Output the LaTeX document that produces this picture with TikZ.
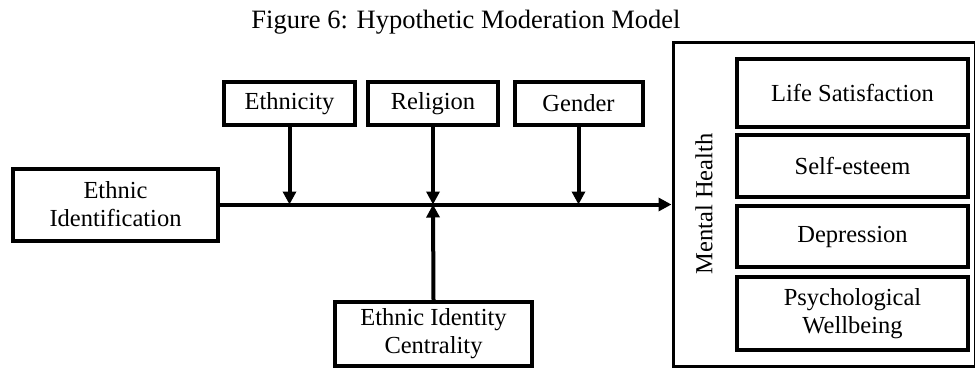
\documentclass[tikz,border=0pt]{standalone}
\usepackage{fontspec}
\setmainfont{Liberation Serif}
\usetikzlibrary{arrows.meta}
\begin{document}
\begin{tikzpicture}[x=1pt,y=-1pt,
  box/.style={draw=black,line width=4pt,fill=white,inner sep=0pt,align=center,
    font=\fontsize{24.5}{28}\selectfont},
  conn/.style={line width=4pt,-{Triangle[length=13pt,width=13pt]}},
  lbl/.style={font=\fontsize{24.5}{28}\selectfont,inner sep=0pt}]
\useasboundingbox (0,0) rectangle (975,367);
\fill[white] (0,0) rectangle (975,367);
\node[lbl,font=\fontsize{26.5}{28}\selectfont] (title) at (466,22) {Figure 6: Hypothetic Moderation Model};
% outer box
\node[draw=black,line width=3pt,inner sep=0pt,minimum width=302pt,minimum height=324pt] (mh) at (824,204) {};
\node[lbl,rotate=90] (mhl) at (704,204) {Mental Health};
% inner boxes
\node[box,minimum width=231pt,minimum height=68pt] (ls) at (852.5,93) {Life Satisfaction};
\node[box,minimum width=231pt,minimum height=62pt] (se) at (852.5,166) {Self-esteem};
\node[box,minimum width=231pt,minimum height=61pt] (dep) at (852.5,236.5) {Depression};
\node[box,minimum width=231pt,minimum height=73pt] (pw) at (852.5,313.5) {Psychological\\Wellbeing};
% left side
\node[box,minimum width=205pt,minimum height=72pt] (ei) at (115.5,204.5) {Ethnic\\Identification};
\node[box,minimum width=131pt,minimum height=43pt] (eth) at (289.5,103.5) {Ethnicity};
\node[box,minimum width=130pt,minimum height=43pt] (rel) at (433,103.5) {Religion};
\node[box,minimum width=128pt,minimum height=43pt] (gen) at (578.5,103.5) {Gender};
\node[box,minimum width=197pt,minimum height=64pt] (eic) at (433.5,334) {Ethnic Identity\\Centrality};
% connectors
\coordinate (mid) at (rel.south |- ei.east);
\draw[conn] (ei.east) -- (ei.east -| mh.west);
\draw[conn] (eth.south) -- (eth.south |- ei.east);
\draw[conn] (gen.south) -- (gen.south |- ei.east);
\draw[conn] (rel.south) -- (mid);
\draw[conn] (eic.north) -- (mid);
\end{tikzpicture}
\end{document}
